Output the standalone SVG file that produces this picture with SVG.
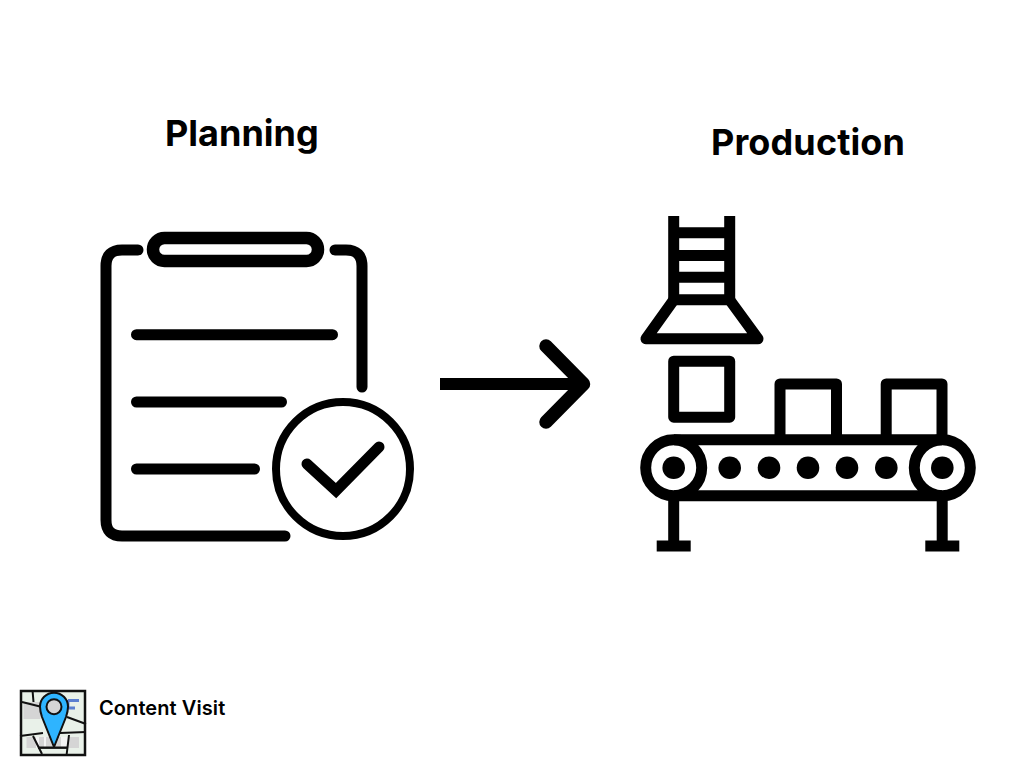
<svg xmlns="http://www.w3.org/2000/svg" width="1024" height="768" viewBox="0 0 1024 768">
<style>
.t{font-family:Inter,"Liberation Sans",sans-serif;fill:#000}
.h{font-size:36px;font-weight:700}
.s{fill:none;stroke:#000;stroke-width:11}
.r{stroke-linecap:round;stroke-linejoin:round}
.d{fill:#000}
.m{fill:none;stroke:#111;stroke-width:2}
.g{fill:#d5d5d5}
</style>
<rect width="1024" height="768" fill="#fff"/>
<g id="planning-label"><text class="t h" x="165" y="146">Planning</text></g>
<g id="production-label"><text class="t h" x="711" y="155" letter-spacing="0.12">Production</text></g>
<g id="planning-icon">
<path class="s r" d="M138 250H122Q106 250 106 266V520Q106 536 122 536H285"/>
<path class="s r" d="M335 250H346Q362 250 362 266V387"/>
<rect class="s" x="153" y="238" width="165" height="23" rx="11.5" style="stroke-width:12.500"/>
<path class="s r" d="M136.500 334.700H332.500M136.500 402H281.500M136.500 469H254.500"/>
<circle cx="343" cy="469" r="67" fill="none" stroke="#000" stroke-width="8"/>
<path class="s" style="stroke-linecap:round" d="M307 464L336 490.500L379 447"/>
</g>
<g id="connectors"><path class="s" style="stroke-width:12" d="M440 384H580"/><path class="s r" style="stroke-width:13.500" d="M546 346L583.500 384L546 422"/></g>
<g id="production-icon">
<path class="s" d="M673.700 216V305M729.700 216V305M674 232.800H730M674 255.400H730M674 277.200H730M674 299.800H730"/>
<path class="s r" d="M673.700 300L646 338.800H758L729.700 300"/>
<rect class="s r" x="673.700" y="361.200" width="56" height="56"/>
<path class="s" style="stroke-linejoin:round" d="M780 440V384H836.500V440M886.200 440V384H942V440"/>
<path class="s" d="M674 439.800H942M674 495.700H942"/>
<circle class="s" cx="673.700" cy="467.700" r="28"/>
<circle class="s" cx="942.300" cy="467.700" r="28"/>
<circle class="d" cx="673.700" cy="467.700" r="11.300"/><circle class="d" cx="942.300" cy="467.700" r="11.300"/>
<circle class="d" cx="729.700" cy="467.700" r="11.300"/><circle class="d" cx="769" cy="467.700" r="11.300"/><circle class="d" cx="808" cy="467.700" r="11.300"/><circle class="d" cx="847" cy="467.700" r="11.300"/><circle class="d" cx="886.300" cy="467.700" r="11.300"/>
<path class="s" d="M673.700 496V546M942.200 496V546M656.700 546H690.700M925.300 546H959.300"/>
</g>
<g id="content-visit">
<rect x="21" y="691" width="64" height="64" fill="#e9f1e9"/>
<rect class="g" x="23.500" y="702" width="17" height="17"/>
<rect class="g" x="26.500" y="737" width="52.500" height="11"/>
<rect x="36" y="737" width="3" height="11" fill="#f4f4f4"/><rect x="44" y="737" width="2" height="11" fill="#f4f4f4"/><rect x="61" y="737" width="7" height="11" fill="#f4f4f4"/>
<path d="M68 700.500H79M68 708H75M68 700V708" fill="none" stroke="#5b7fd0" stroke-width="2.800"/>
<path class="m" d="M22 702L42 707M32.500 690L33.500 702M67 717L86 724M20 736L43 733M60 733L86 732M33 736L42 754M69 735L66.700 754"/>
<path d="M38 747.700H68" stroke="#111" stroke-width="2.400"/>
<rect x="21" y="691" width="64" height="64" fill="none" stroke="#111" stroke-width="2.500"/>
<path d="M54 747L42 717Q40 711 40 706.700A14 14 0 0 1 68 706.700Q68 711 66 717Z" fill="#2eb4ff" stroke="#111" stroke-width="2" stroke-linejoin="round"/>
<circle cx="54" cy="706.700" r="7.500" fill="#d5d5d5" stroke="#111" stroke-width="2"/>
<text class="t" x="99" y="715" font-size="20" font-weight="600" letter-spacing="0.08">Content Visit</text>
</g>
</svg>
